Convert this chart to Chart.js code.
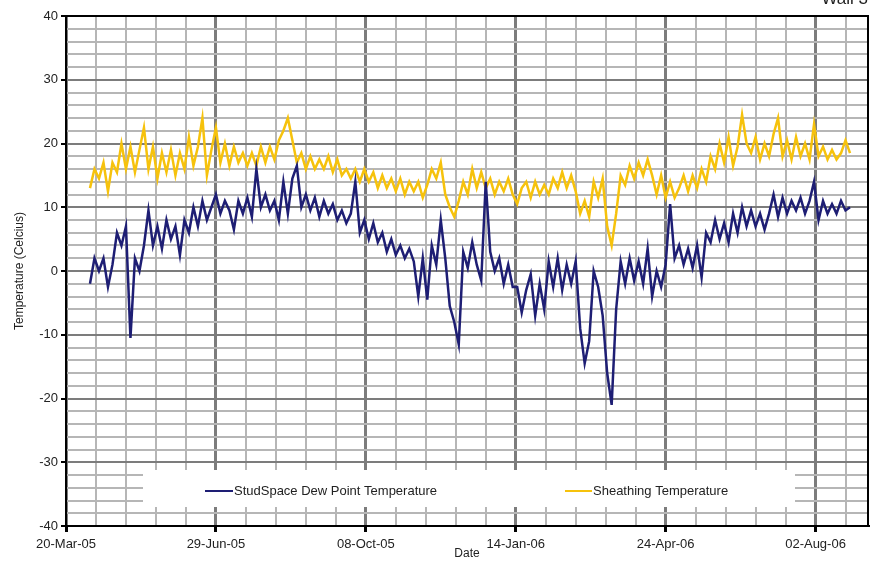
<!DOCTYPE html>
<html>
<head>
<meta charset="utf-8">
<script src="https://cdn.jsdelivr.net/npm/chart.js@4"></script>
<style>
  body { margin: 0; background: #fff; }
  #wrap { width: 885px; height: 561px; position: relative; }
</style>
</head>
<body>
<div id="wrap"><canvas id="wallChart"></canvas></div>
<script>
// x axis tick labels (every 100 days from 20-Mar-05)
const xTickLabels = ['20-Mar-05', '29-Jun-05', '08-Oct-05', '14-Jan-06', '24-Apr-06', '02-Aug-06'];

// samples start at day 16 and are 3 days apart
const firstDay = 16;
const dayStep = 3;

// StudSpace Dew Point Temperature (C)
const dewPoint = [
  -2, 2, 0, 2, -2.5, 1, 6, 4, 7, -10.5,
  2, 0, 4, 9.5, 4, 7, 3.5, 8, 5, 7,
  2.5, 8, 6, 10, 7, 11, 8, 10, 12, 9,
  11, 9.5, 6.5, 11, 9, 11.5, 8.5, 16, 10, 12,
  9.5, 11, 8, 14, 9, 14.5, 16.5, 10, 12, 9.5,
  11.5, 8.5, 11, 9, 10.5, 8, 9.5, 7.5, 9, 14,
  6, 8, 5, 7.5, 4.5, 6, 3, 5, 2.5, 4,
  2, 3.5, 1.5, -4, 2, -4.5, 4, 1, 8, 2,
  -5.5, -8, -11.5, 3, 0.5, 4.5, 1, -1.5, 14, 3,
  0, 2, -2, 1, -2.5, -2.5, -6.5, -3, -0.5, -7,
  -2, -6, 1.5, -2.5, 2, -3, 1, -2, 1.5, -9,
  -14.5, -11, 0, -2.5, -7, -16, -21, -6, 1.5, -2,
  2, -1.5, 1.5, -2, 3.5, -4, 0, -2.5, 1, 10.5,
  2, 4, 1, 3.5, 0.5, 4, -1, 6, 4.5, 8,
  5, 7.5, 4.5, 9, 6, 10, 7, 9.5, 7, 9,
  6.5, 9, 12, 8.5, 11.5, 9, 11, 9.5, 11.5, 9,
  11, 14, 8, 11, 9, 10.5, 9, 11, 9.5, 10
];

// Sheathing Temperature (C)
const sheathing = [
  13, 16, 14.5, 17, 12.5, 17, 15.5, 20, 16, 19.5,
  15.5, 19, 22.5, 16, 19.5, 14.5, 18.5, 15.5, 19, 15,
  18.5, 16, 21, 16.5, 19.5, 24, 15, 19, 22.5, 17,
  20, 16.5, 19.5, 17, 18.5, 16.5, 18.5, 16.5, 19.5, 17,
  19.5, 17.5, 20.5, 22, 24, 20.5, 17, 18.5, 16, 18,
  16, 17.5, 16, 18, 15.5, 17.5, 15, 16, 14.5, 16,
  14, 16, 14, 15.5, 13, 15, 13, 14.5, 12.5, 14.5,
  12, 14, 12.5, 14, 11.5, 13.5, 16, 14.5, 17, 12,
  10, 8.5, 11, 14, 12, 16, 13, 15.5, 13, 14.5,
  12, 14, 12.5, 14.5, 12, 10.5, 13, 14, 11.5, 14,
  12, 13.5, 12, 14.5, 13, 15.5, 13, 15, 12.5, 9,
  11, 8.5, 14, 11.5, 14.5, 7, 4, 9, 15, 13.5,
  16.5, 14.5, 17, 15, 17.5, 15, 12, 15, 11.5, 14,
  11.5, 13, 15, 12.5, 15, 13, 16, 14, 18, 16,
  20, 17, 21, 16.5, 19.5, 24.5, 20, 18.5, 21, 17.5,
  20, 18, 21.5, 24, 18, 20.5, 17.5, 21, 18, 20,
  17.5, 23, 18, 19.5, 17.5, 19, 17.5, 18.5, 20.5, 18.5
];

const seriesNames = ['StudSpace Dew Point Temperature', 'Sheathing Temperature'];
const seriesColors = ['#1e1e74', '#f6c20c'];

function toPoints(values) {
    return values.map((v, i) => ({ x: firstDay + i * dayStep, y: v }));
}

const FONT = "'Liberation Sans', Arial, sans-serif";

// titles, frame and the boxed legend inside the plot
const decorPlugin = {
    id: 'decor',
    afterDraw(chart) {
        const ctx = chart.ctx;
        const area = chart.chartArea;
        ctx.save();

        // legend box
        ctx.fillStyle = '#fff';
        ctx.fillRect(143, 470, 652, 37);
        const legendY = 491;
        const items = [[205, 233], [565, 592]];
        ctx.font = '13px ' + FONT;
        ctx.textBaseline = 'middle';
        ctx.textAlign = 'left';
        items.forEach((it, i) => {
            ctx.strokeStyle = seriesColors[i];
            ctx.lineWidth = 2;
            ctx.beginPath();
            ctx.moveTo(it[0], legendY);
            ctx.lineTo(it[1], legendY);
            ctx.stroke();
            ctx.fillStyle = '#222';
            ctx.fillText(seriesNames[i], it[1] + 1, legendY);
        });

        // top and right frame
        ctx.strokeStyle = '#000';
        ctx.lineWidth = 2;
        ctx.beginPath();
        ctx.moveTo(area.left, area.top);
        ctx.lineTo(area.right, area.top);
        ctx.lineTo(area.right, area.bottom);
        ctx.stroke();

        // axis titles
        ctx.fillStyle = '#222';
        ctx.font = '12px ' + FONT;
        ctx.textAlign = 'center';
        ctx.fillText('Date', (area.left + area.right) / 2, 554);
        ctx.save();
        ctx.translate(20, (area.top + area.bottom) / 2);
        ctx.rotate(-Math.PI / 2);
        ctx.fillText('Temperature (Celcius)', 0, 0);
        ctx.restore();

        // chart title, cut off by the top edge
        ctx.font = '17px ' + FONT;
        ctx.textAlign = 'right';
        ctx.fillText('Wall 3', 868, -1);

        ctx.restore();
    }
};

new Chart(document.getElementById('wallChart'), {
    type: 'line',
    data: {
        datasets: [
            {
                label: seriesNames[0],
                data: toPoints(dewPoint),
                borderColor: seriesColors[0],
                borderWidth: 2.5,
                pointRadius: 0,
                tension: 0,
                fill: false
            },
            {
                label: seriesNames[1],
                data: toPoints(sheathing),
                borderColor: seriesColors[1],
                borderWidth: 2.5,
                pointRadius: 0,
                tension: 0,
                fill: false
            }
        ]
    },
    options: {
        responsive: true,
        maintainAspectRatio: false,
        animation: false,
        layout: { padding: { top: 16, right: 17, left: 0, bottom: 0 } },
        plugins: {
            legend: { display: false },
            tooltip: { enabled: false }
        },
        scales: {
            x: {
                type: 'linear',
                min: 0,
                max: 535,
                afterFit: (s) => { s.height = 35; },
                afterBuildTicks: (s) => {
                    const t = [];
                    for (let v = 0; v <= 520; v += 20) t.push({ value: v });
                    s.ticks = t;
                },
                ticks: {
                    autoSkip: false,
                    maxRotation: 0,
                    padding: 5,
                    color: '#222',
                    font: { family: FONT, size: 13 },
                    callback: (v) => v % 100 === 0 ? xTickLabels[v / 100] : ''
                },
                grid: {
                    color: (c) => c.tick && c.tick.value % 100 === 0 ? '#7c7c7c' : '#b6b6b6',
                    lineWidth: (c) => c.tick && c.tick.value % 100 === 0 ? 3 : 2,
                    tickColor: (c) => c.tick && c.tick.value % 100 === 0 ? '#000' : 'rgba(0,0,0,0)',
                    tickLength: 6
                },
                border: { color: '#000', width: 2 }
            },
            y: {
                min: -40,
                max: 40,
                afterFit: (s) => { s.width = 66; },
                ticks: {
                    stepSize: 2,
                    autoSkip: false,
                    padding: 3,
                    color: '#222',
                    font: { family: FONT, size: 13 },
                    callback: (v) => v % 10 === 0 ? String(v) : ''
                },
                grid: {
                    color: (c) => c.tick && c.tick.value % 10 === 0 ? '#7c7c7c' : '#b6b6b6',
                    lineWidth: 2,
                    tickColor: (c) => c.tick && c.tick.value % 10 === 0 ? '#000' : 'rgba(0,0,0,0)',
                    tickLength: 5
                },
                border: { color: '#000', width: 2 }
            }
        }
    },
    plugins: [decorPlugin]
});
</script>
</body>
</html>
